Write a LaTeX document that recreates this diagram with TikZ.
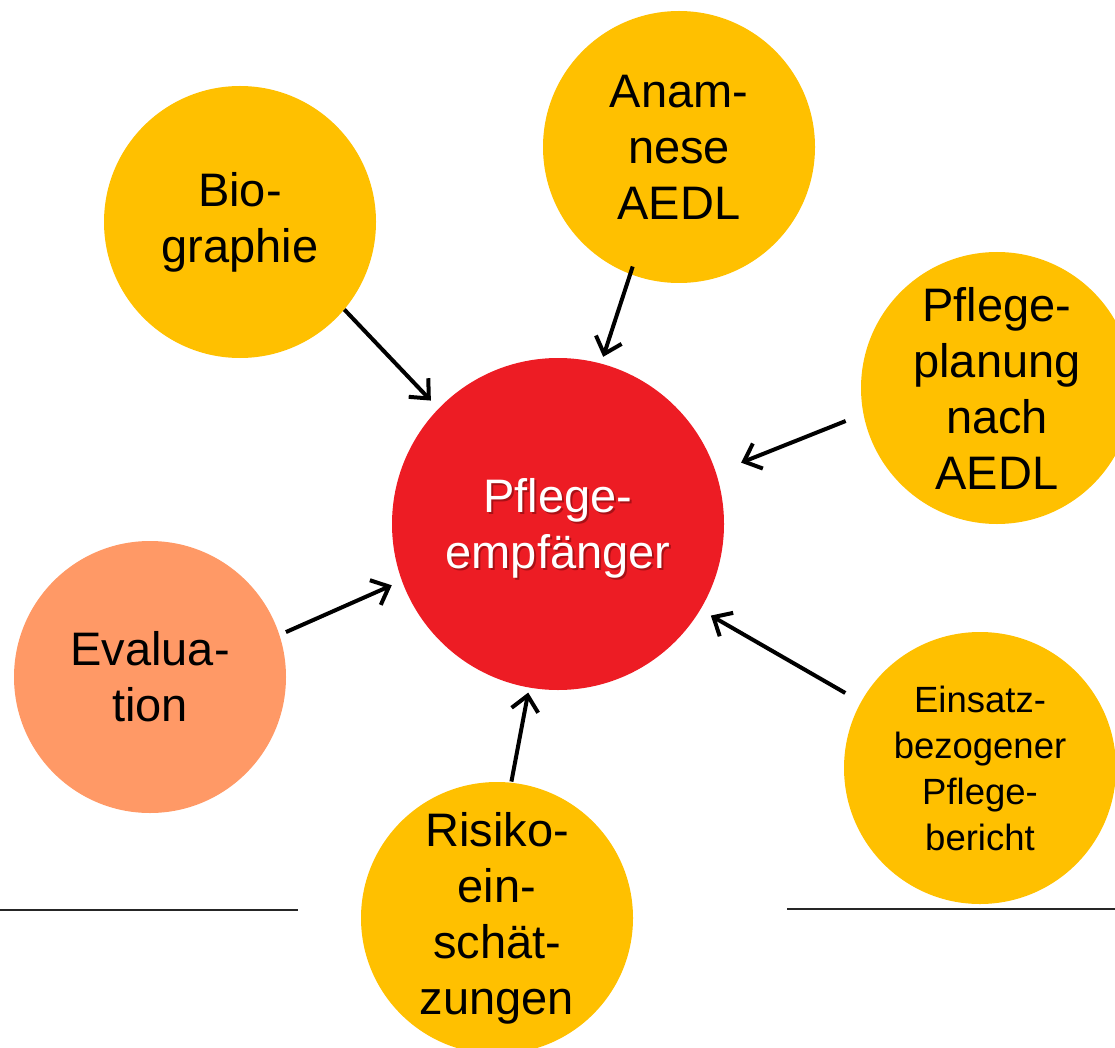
\documentclass[tikz,border=0pt]{standalone}
\usepackage{fontspec}
\setmainfont{Liberation Sans}
\usetikzlibrary{arrows.meta}
\definecolor{gold}{HTML}{FFC000}
\definecolor{redc}{HTML}{ED1C24}
\definecolor{salmon}{HTML}{FF9966}
\definecolor{shadowc}{HTML}{7A0A0E}
\tikzset{
  bubble/.style={circle, fill=gold, draw=none, minimum size=272pt, inner sep=0pt, align=center,
    font=\fontsize{47}{56}\selectfont},
  smallbubble/.style={bubble, font=\fontsize{36.5}{46}\selectfont},
  arr/.style={-{Straight Barb[length=15pt,width=27pt,line width=4pt]}, line width=4pt, black},
  rule/.style={line width=2pt, black!85}
}
\begin{document}
\begin{tikzpicture}[x=1pt,y=-1pt]
\useasboundingbox (0,0) rectangle (1115,1048);
\clip (0,0) rectangle (1115,1048);
\node[bubble] (bio) at (240,222) {Bio-\\graphie};
\node[bubble] (anam) at (679,147) {Anam-\\nese\\AEDL};
\node[bubble] (plan) at (997,388) {Pflege-\\planung\\nach\\AEDL};
\node[bubble, fill=salmon] (eval) at (150,677) {Evalua-\\tion};
\node[bubble] (risk) at (497,918) {Risiko-\\ein-\\schät-\\zungen};
\node[smallbubble] (eins) at (980,768) {Einsatz-\\bezogener\\Pflege-\\bericht};
\node[circle, fill=redc, minimum size=332pt, inner sep=0pt] (pe) at (558,524) {};
\node[align=center, text=shadowc, opacity=0.6, font=\fontsize{47}{56}\selectfont] (pesh) at (560,530) {Pflege-\\empfänger};
\node[align=center, text=white, font=\fontsize{47}{56}\selectfont] (pet) at (558,528) {Pflege-\\empfänger};
\draw[arr, shorten >=11pt] (bio.-40) -- (pe.136);
\draw[arr, shorten <=-8pt, shorten >=7pt] (anam.-111) -- (pe.75);
\draw[arr, shorten <=19pt, shorten >=27pt] (plan.191) -- (pe.18);
\draw[arr, shorten <=7pt, shorten >=11pt] (eval.18) -- (pe.200);
\draw[arr, shorten <=1pt, shorten >=5pt] (risk.84) -- (pe.-100);
\draw[arr, shorten <=18pt, shorten >=12pt] (eins.151) -- (pe.-31);
\coordinate (l1a) at (0,910);
\coordinate (l1b) at (298,910);
\coordinate (l2a) at (787,909);
\coordinate (l2b) at (1115,909);
\draw[rule] (l1a) -- (l1b);
\draw[rule] (l2a) -- (l2b);
\end{tikzpicture}
\end{document}
